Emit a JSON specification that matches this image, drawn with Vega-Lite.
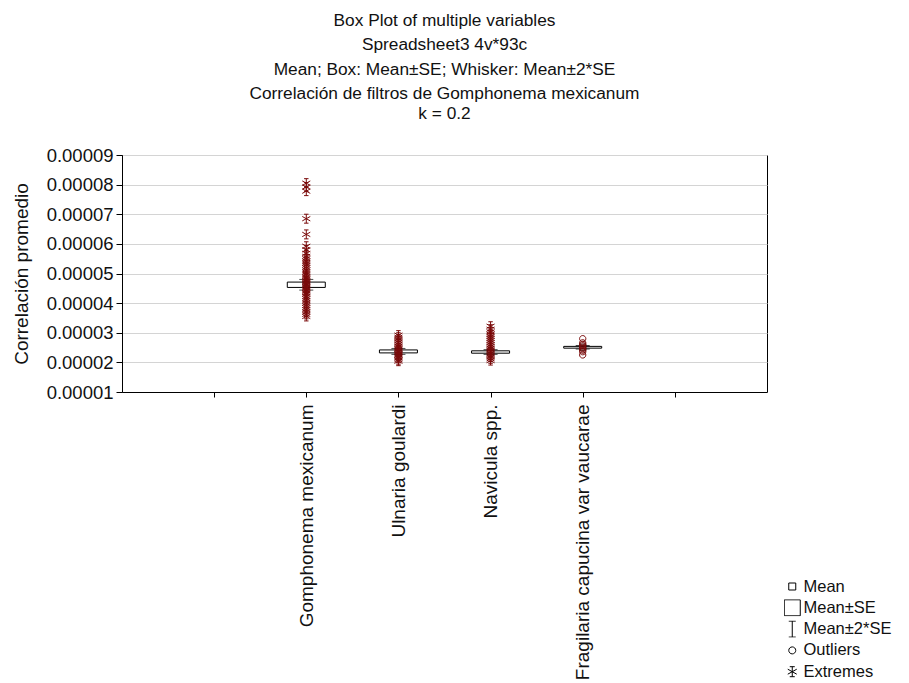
{
  "$schema": "https://vega.github.io/schema/vega-lite/v6.json",
  "width": 645,
  "height": 237,
  "autosize": {"type": "none"},
  "padding": {"left": 122, "top": 155, "right": 142, "bottom": 291},
  "background": "white",
  "title": {
    "text": ["Box Plot of multiple variables", "Spreadsheet3 4v*93c", "Mean; Box: Mean±SE; Whisker: Mean±2*SE", "Correlación de filtros de Gomphonema mexicanum"],
    "subtitle": "k = 0.2",
    "font": "Liberation Sans",
    "fontSize": 17.3,
    "fontWeight": "normal",
    "lineHeight": 24.5,
    "color": "#111111",
    "subtitleFont": "Liberation Sans",
    "subtitleFontSize": 17.3,
    "subtitleColor": "#111111",
    "subtitlePadding": 2,
    "anchor": "middle",
    "offset": 24
  },
  "config": {
    "view": {"stroke": "black", "strokeWidth": 1},
    "axis": {
      "labelFont": "Liberation Sans",
      "labelColor": "#111111",
      "titleFont": "Liberation Sans",
      "titleFontWeight": "normal",
      "titleColor": "#111111",
      "domainColor": "black",
      "tickColor": "black"
    }
  },
  "datasets": {
    "stats": [
      {"var": "Gomphonema mexicanum", "mean": 0.0000462, "lo": 0.0000453, "hi": 0.0000471, "lo2": 0.0000444, "hi2": 0.000048},
      {"var": "Ulnaria goulardi", "mean": 0.0000237, "lo": 0.0000232, "hi": 0.0000242, "lo2": 0.0000227, "hi2": 0.0000247},
      {"var": "Navicula spp.", "mean": 0.0000235, "lo": 0.0000231, "hi": 0.0000239, "lo2": 0.0000227, "hi2": 0.0000243},
      {"var": "Fragilaria capucina var vaucarae", "mean": 0.0000251, "lo": 0.0000248, "hi": 0.0000254, "lo2": 0.0000245, "hi2": 0.0000257}
    ],
    "points": [
      {"var": "Gomphonema mexicanum", "value": 0.0000805, "kind": "Extremes"},
      {"var": "Gomphonema mexicanum", "value": 0.0000792, "kind": "Extremes"},
      {"var": "Gomphonema mexicanum", "value": 0.0000778, "kind": "Extremes"},
      {"var": "Gomphonema mexicanum", "value": 0.0000685, "kind": "Extremes"},
      {"var": "Gomphonema mexicanum", "value": 0.0000632, "kind": "Extremes"},
      {"var": "Gomphonema mexicanum", "value": 0.0000592, "kind": "Extremes"},
      {"var": "Gomphonema mexicanum", "value": 0.000058, "kind": "Extremes"},
      {"var": "Gomphonema mexicanum", "value": 0.0000568, "kind": "Extremes"},
      {"var": "Gomphonema mexicanum", "value": 0.0000558, "kind": "Extremes"},
      {"var": "Gomphonema mexicanum", "value": 0.000055, "kind": "Extremes"},
      {"var": "Gomphonema mexicanum", "value": 0.0000542, "kind": "Extremes"},
      {"var": "Gomphonema mexicanum", "value": 0.0000535, "kind": "Extremes"},
      {"var": "Gomphonema mexicanum", "value": 0.0000528, "kind": "Extremes"},
      {"var": "Gomphonema mexicanum", "value": 0.000052, "kind": "Extremes"},
      {"var": "Gomphonema mexicanum", "value": 0.0000512, "kind": "Extremes"},
      {"var": "Gomphonema mexicanum", "value": 0.0000505, "kind": "Extremes"},
      {"var": "Gomphonema mexicanum", "value": 0.0000498, "kind": "Extremes"},
      {"var": "Gomphonema mexicanum", "value": 0.000049, "kind": "Extremes"},
      {"var": "Gomphonema mexicanum", "value": 0.0000485, "kind": "Extremes"},
      {"var": "Gomphonema mexicanum", "value": 0.000048, "kind": "Extremes"},
      {"var": "Gomphonema mexicanum", "value": 0.0000475, "kind": "Extremes"},
      {"var": "Gomphonema mexicanum", "value": 0.000047, "kind": "Extremes"},
      {"var": "Gomphonema mexicanum", "value": 0.0000465, "kind": "Extremes"},
      {"var": "Gomphonema mexicanum", "value": 0.000046, "kind": "Extremes"},
      {"var": "Gomphonema mexicanum", "value": 0.0000455, "kind": "Extremes"},
      {"var": "Gomphonema mexicanum", "value": 0.000045, "kind": "Extremes"},
      {"var": "Gomphonema mexicanum", "value": 0.0000445, "kind": "Extremes"},
      {"var": "Gomphonema mexicanum", "value": 0.000044, "kind": "Extremes"},
      {"var": "Gomphonema mexicanum", "value": 0.0000435, "kind": "Extremes"},
      {"var": "Gomphonema mexicanum", "value": 0.000043, "kind": "Extremes"},
      {"var": "Gomphonema mexicanum", "value": 0.0000422, "kind": "Extremes"},
      {"var": "Gomphonema mexicanum", "value": 0.0000415, "kind": "Extremes"},
      {"var": "Gomphonema mexicanum", "value": 0.0000408, "kind": "Extremes"},
      {"var": "Gomphonema mexicanum", "value": 0.00004, "kind": "Extremes"},
      {"var": "Gomphonema mexicanum", "value": 0.0000392, "kind": "Extremes"},
      {"var": "Gomphonema mexicanum", "value": 0.0000385, "kind": "Extremes"},
      {"var": "Gomphonema mexicanum", "value": 0.0000378, "kind": "Extremes"},
      {"var": "Gomphonema mexicanum", "value": 0.000037, "kind": "Extremes"},
      {"var": "Gomphonema mexicanum", "value": 0.0000362, "kind": "Extremes"},
      {"var": "Gomphonema mexicanum", "value": 0.0000355, "kind": "Extremes"},
      {"var": "Ulnaria goulardi", "value": 0.0000292, "kind": "Extremes"},
      {"var": "Ulnaria goulardi", "value": 0.0000285, "kind": "Extremes"},
      {"var": "Ulnaria goulardi", "value": 0.0000279, "kind": "Extremes"},
      {"var": "Ulnaria goulardi", "value": 0.0000273, "kind": "Extremes"},
      {"var": "Ulnaria goulardi", "value": 0.0000267, "kind": "Extremes"},
      {"var": "Ulnaria goulardi", "value": 0.0000261, "kind": "Extremes"},
      {"var": "Ulnaria goulardi", "value": 0.0000255, "kind": "Extremes"},
      {"var": "Ulnaria goulardi", "value": 0.0000249, "kind": "Extremes"},
      {"var": "Ulnaria goulardi", "value": 0.0000244, "kind": "Extremes"},
      {"var": "Ulnaria goulardi", "value": 0.0000239, "kind": "Extremes"},
      {"var": "Ulnaria goulardi", "value": 0.0000234, "kind": "Extremes"},
      {"var": "Ulnaria goulardi", "value": 0.0000229, "kind": "Extremes"},
      {"var": "Ulnaria goulardi", "value": 0.0000224, "kind": "Extremes"},
      {"var": "Ulnaria goulardi", "value": 0.0000219, "kind": "Extremes"},
      {"var": "Ulnaria goulardi", "value": 0.0000214, "kind": "Extremes"},
      {"var": "Ulnaria goulardi", "value": 0.0000209, "kind": "Extremes"},
      {"var": "Ulnaria goulardi", "value": 0.0000204, "kind": "Extremes"},
      {"var": "Navicula spp.", "value": 0.0000322, "kind": "Extremes"},
      {"var": "Navicula spp.", "value": 0.0000312, "kind": "Extremes"},
      {"var": "Navicula spp.", "value": 0.0000303, "kind": "Extremes"},
      {"var": "Navicula spp.", "value": 0.0000295, "kind": "Extremes"},
      {"var": "Navicula spp.", "value": 0.0000288, "kind": "Extremes"},
      {"var": "Navicula spp.", "value": 0.0000281, "kind": "Extremes"},
      {"var": "Navicula spp.", "value": 0.0000274, "kind": "Extremes"},
      {"var": "Navicula spp.", "value": 0.0000267, "kind": "Extremes"},
      {"var": "Navicula spp.", "value": 0.000026, "kind": "Extremes"},
      {"var": "Navicula spp.", "value": 0.0000254, "kind": "Extremes"},
      {"var": "Navicula spp.", "value": 0.0000248, "kind": "Extremes"},
      {"var": "Navicula spp.", "value": 0.0000242, "kind": "Extremes"},
      {"var": "Navicula spp.", "value": 0.0000236, "kind": "Extremes"},
      {"var": "Navicula spp.", "value": 0.000023, "kind": "Extremes"},
      {"var": "Navicula spp.", "value": 0.0000224, "kind": "Extremes"},
      {"var": "Navicula spp.", "value": 0.0000218, "kind": "Extremes"},
      {"var": "Navicula spp.", "value": 0.0000212, "kind": "Extremes"},
      {"var": "Navicula spp.", "value": 0.0000206, "kind": "Extremes"},
      {"var": "Fragilaria capucina var vaucarae", "value": 0.000028, "kind": "Outliers"},
      {"var": "Fragilaria capucina var vaucarae", "value": 0.0000266, "kind": "Outliers"},
      {"var": "Fragilaria capucina var vaucarae", "value": 0.0000261, "kind": "Outliers"},
      {"var": "Fragilaria capucina var vaucarae", "value": 0.0000256, "kind": "Outliers"},
      {"var": "Fragilaria capucina var vaucarae", "value": 0.0000251, "kind": "Outliers"},
      {"var": "Fragilaria capucina var vaucarae", "value": 0.0000246, "kind": "Outliers"},
      {"var": "Fragilaria capucina var vaucarae", "value": 0.0000241, "kind": "Outliers"},
      {"var": "Fragilaria capucina var vaucarae", "value": 0.0000236, "kind": "Outliers"},
      {"var": "Fragilaria capucina var vaucarae", "value": 0.0000225, "kind": "Outliers"}
    ]
  },
  "encoding": {
    "x": {
      "field": "var",
      "type": "nominal",
      "sort": null,
      "scale": {"type": "point", "domain": [" ", "Gomphonema mexicanum", "Ulnaria goulardi", "Navicula spp.", "Fragilaria capucina var vaucarae", "  "], "padding": 1},
      "axis": {"title": null, "labelAngle": -90, "labelFontSize": 19, "tickSize": 5, "labelPadding": 7, "grid": false, "labelLimit": 400}
    }
  },
  "layer": [
    {
      "data": {"name": "stats"},
      "mark": {"type": "rule", "color": "black", "strokeWidth": 1},
      "encoding": {
        "y": {"field": "lo2", "type": "quantitative", "title": "Correlación promedio",
          "scale": {"domain": [0.00001, 0.00009], "nice": false, "zero": false},
          "axis": {"values": [0.00001, 0.00002, 0.00003, 0.00004, 0.00005, 0.00006, 0.00007, 0.00008, 0.00009], "format": ".5f", "labelOverlap": false, "labelFontSize": 18.5, "titleFontSize": 19, "grid": true, "gridColor": "#d4d4d4", "tickSize": 6, "labelPadding": 3, "titlePadding": 15}},
        "y2": {"field": "hi2"}
      }
    },
    {
      "data": {"name": "stats"},
      "mark": {"type": "tick", "color": "black", "orient": "horizontal", "size": 14, "thickness": 1},
      "encoding": {"y": {"field": "lo2", "type": "quantitative", "title": "Correlación promedio",
          "scale": {"domain": [0.00001, 0.00009], "nice": false, "zero": false},
          "axis": {"values": [0.00001, 0.00002, 0.00003, 0.00004, 0.00005, 0.00006, 0.00007, 0.00008, 0.00009], "format": ".5f", "labelOverlap": false, "labelFontSize": 18.5, "titleFontSize": 19, "grid": true, "gridColor": "#d4d4d4", "tickSize": 6, "labelPadding": 3, "titlePadding": 15}}}
    },
    {
      "data": {"name": "stats"},
      "mark": {"type": "tick", "color": "black", "orient": "horizontal", "size": 14, "thickness": 1},
      "encoding": {"y": {"field": "hi2", "type": "quantitative", "title": "Correlación promedio",
          "scale": {"domain": [0.00001, 0.00009], "nice": false, "zero": false},
          "axis": {"values": [0.00001, 0.00002, 0.00003, 0.00004, 0.00005, 0.00006, 0.00007, 0.00008, 0.00009], "format": ".5f", "labelOverlap": false, "labelFontSize": 18.5, "titleFontSize": 19, "grid": true, "gridColor": "#d4d4d4", "tickSize": 6, "labelPadding": 3, "titlePadding": 15}}}
    },
    {
      "data": {"name": "stats"},
      "mark": {"type": "bar", "width": 38, "fill": "white", "stroke": "black", "strokeWidth": 1},
      "encoding": {
        "y": {"field": "lo", "type": "quantitative", "title": "Correlación promedio",
          "scale": {"domain": [0.00001, 0.00009], "nice": false, "zero": false},
          "axis": {"values": [0.00001, 0.00002, 0.00003, 0.00004, 0.00005, 0.00006, 0.00007, 0.00008, 0.00009], "format": ".5f", "labelOverlap": false, "labelFontSize": 18.5, "titleFontSize": 19, "grid": true, "gridColor": "#d4d4d4", "tickSize": 6, "labelPadding": 3, "titlePadding": 15}},
        "y2": {"field": "hi"}
      }
    },
    {
      "data": {"name": "stats"},
      "mark": {"type": "point", "shape": "M-0.7,-0.7H0.7V0.7H-0.7Z", "size": 80, "filled": false, "color": "black", "strokeWidth": 1},
      "encoding": {"y": {"field": "mean", "type": "quantitative", "title": "Correlación promedio",
          "scale": {"domain": [0.00001, 0.00009], "nice": false, "zero": false},
          "axis": {"values": [0.00001, 0.00002, 0.00003, 0.00004, 0.00005, 0.00006, 0.00007, 0.00008, 0.00009], "format": ".5f", "labelOverlap": false, "labelFontSize": 18.5, "titleFontSize": 19, "grid": true, "gridColor": "#d4d4d4", "tickSize": 6, "labelPadding": 3, "titlePadding": 15}}}
    },
    {
      "data": {"name": "points"},
      "mark": {"type": "point", "filled": false, "color": "#7a0a0a", "size": 80, "strokeWidth": 1, "opacity": 1},
      "encoding": {
        "y": {"field": "value", "type": "quantitative", "title": "Correlación promedio",
          "scale": {"domain": [0.00001, 0.00009], "nice": false, "zero": false},
          "axis": {"values": [0.00001, 0.00002, 0.00003, 0.00004, 0.00005, 0.00006, 0.00007, 0.00008, 0.00009], "format": ".5f", "labelOverlap": false, "labelFontSize": 18.5, "titleFontSize": 19, "grid": true, "gridColor": "#d4d4d4", "tickSize": 6, "labelPadding": 3, "titlePadding": 15}},
        "shape": {
          "field": "kind",
          "type": "nominal",
          "scale": {
            "domain": ["Mean", "Mean±SE", "Mean±2*SE", "Outliers", "Extremes"],
            "range": [
              "M-0.7,-0.7H0.7V0.7H-0.7Z",
              "M-1.6,-1.6H1.6V1.6H-1.6Z",
              "M-0.7,-1.6H0.7M0,-1.6V1.6M-0.7,1.6H0.7",
              "M0.7,0A0.7,0.7,0,1,1,-0.7,0A0.7,0.7,0,1,1,0.7,0Z",
              "M0,-1V1M-0.9,-0.5L0.9,0.5M-0.9,0.5L0.9,-0.5M-0.5,-1H0.5M-0.5,1H0.5"
            ]
          },
          "legend": {
            "title": null,
            "orient": "none",
            "legendX": 662,
            "legendY": 423,
            "labelFont": "Liberation Sans",
            "labelFontSize": 16.5,
            "labelColor": "#111111",
            "symbolSize": 100,
            "symbolStrokeColor": "black",
            "symbolFillColor": "transparent",
            "symbolStrokeWidth": 1,
            "symbolOpacity": 1,
            "clipHeight": 17,
            "rowPadding": 4.3,
            "labelOffset": 3,
            "encode": {"symbols": {"update": {"stroke": {"value": "black"}, "fill": {"value": "transparent"}, "strokeWidth": {"value": 1}, "opacity": {"value": 1}}}}
          }
        }
      }
    }
  ]
}
